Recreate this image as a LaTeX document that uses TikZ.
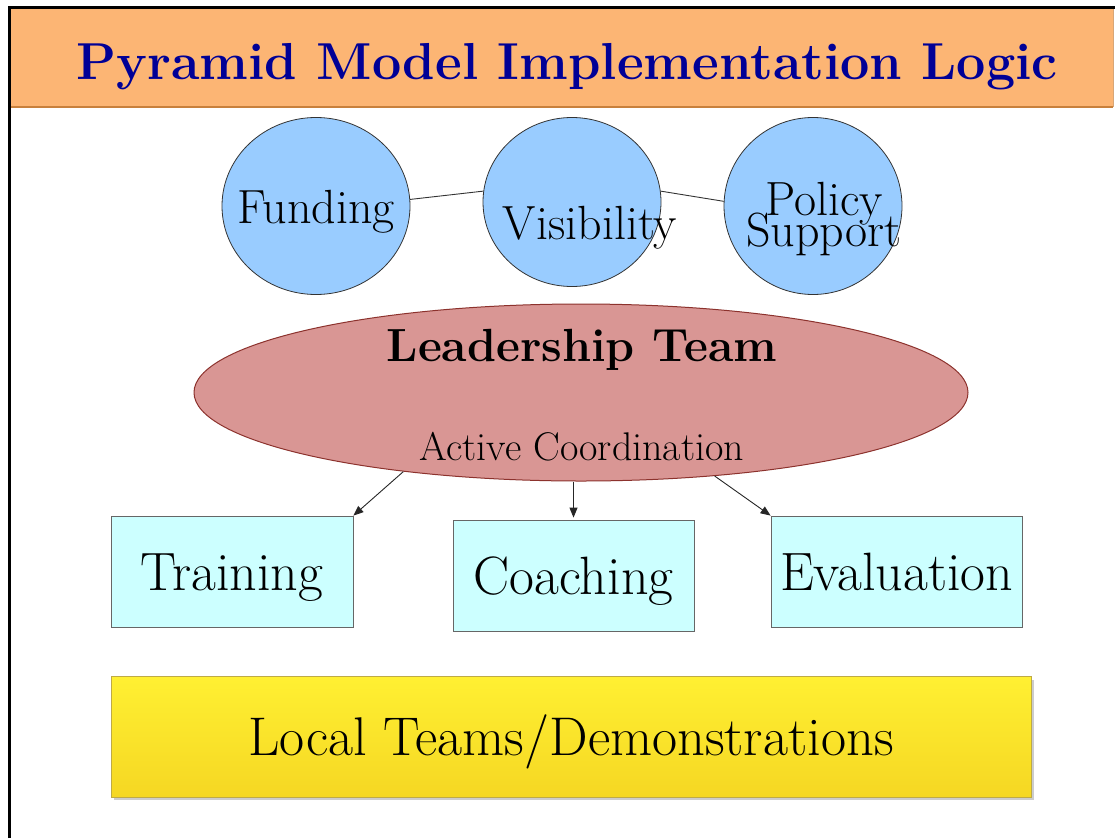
\documentclass[tikz,border=0pt]{standalone}
\usetikzlibrary{shapes.geometric,arrows.meta,backgrounds}
\definecolor{hdr}{RGB}{252,181,116}
\definecolor{hdrline}{RGB}{200,128,60}
\definecolor{ttl}{RGB}{0,0,150}
\definecolor{circ}{RGB}{153,204,255}
\definecolor{leadf}{RGB}{217,150,148}
\definecolor{leadd}{RGB}{140,50,45}
\definecolor{boxf}{RGB}{204,255,255}
\definecolor{yelT}{RGB}{255,240,50}
\definecolor{yelB}{RGB}{245,215,35}
\definecolor{yeld}{RGB}{190,170,70}
\newcommand{\mytightlines}{\fontsize{48}{31}\selectfont\lineskiplimit=-100pt\relax\lineskip=0pt\relax}
\begin{document}
\begin{tikzpicture}[x=1pt,y=-1pt,
  bubble/.style={ellipse, draw=black!80, fill=circ, line width=0.8pt, inner sep=0pt},
  ctext/.style={anchor=base, inner sep=0pt, font=\fontsize{48}{48}\selectfont},
  bluebox/.style={draw=black!60, fill=boxf, line width=0.8pt, inner sep=0pt,
     minimum height=111pt, text height=37pt, text depth=0pt, font=\fontsize{54}{54}\selectfont},
  arr/.style={-{Triangle[length=10pt,width=8pt]}, line width=0.9pt, black!85},
  link/.style={line width=0.9pt, black!80}]
\useasboundingbox (0,0) rectangle (1115,838);
% header
\fill[hdr] (11,9) rectangle (1113,107);
\draw[hdrline, line width=2.5pt] (11,107) -- (1113,107);
\draw[hdrline!70, line width=1pt] (1113,9) -- (1113,107);
\draw[black, line width=3pt] (9.5,838) -- (9.5,7.5) -- (1115,7.5);
\node[anchor=base, inner sep=0pt, text=ttl, font=\fontsize{52}{56}\selectfont\bfseries] (title) at (567,79) {Pyramid Model Implementation Logic};
% bubbles
\node[bubble, minimum width=188pt, minimum height=177pt] (fund) at (316,206) {};
\node[bubble, minimum width=178pt, minimum height=169pt] (vis) at (572,202) {};
\node[bubble, minimum width=178pt, minimum height=177pt] (pol) at (813,206) {};
\begin{pgfonlayer}{background}
\draw[link] (fund.4) -- (vis.173);
\draw[link] (vis.7) -- (pol.177);
\end{pgfonlayer}
\node[ctext] (fundt) at (316,223) {Funding};
\node[ctext] (vist) at (590,239) {Visibility};
\node[anchor=north, inner sep=0pt, align=center, font=\mytightlines] (polt) at (824,182) {Policy\\Support};
% leadership
\node[ellipse, draw=leadd, fill=leadf, line width=1pt, minimum width=774pt, minimum height=177pt, inner sep=0pt] (lead) at (581,392.5) {};
\node[anchor=base, inner sep=0pt, font=\fontsize{46.5}{46.5}\selectfont\bfseries] (leadt) at (582,361) {Leadership Team};
\node[anchor=base, inner sep=0pt, font=\fontsize{40}{40}\selectfont] (actt) at (582,460) {Active Coordination};
% boxes
\node[bluebox, minimum width=242pt] (train) at (232,571.5) {Training};
\node[bluebox, minimum width=241pt] (coach) at (573.5,575.5) {Coaching};
\node[bluebox, minimum width=251pt] (eval) at (896.5,571.5) {Evaluation};
\draw[arr] (lead.-156) -- (train.north east);
\draw[arr, shorten >=2pt] (lead.south -| coach.north) -- (coach.north);
\draw[arr] (lead.-32) -- (eval.north west);
% local teams
\fill[black!20] (114,680) rectangle (1034,800);
\node[draw=yeld, line width=0.8pt, top color=yelT, bottom color=yelB, minimum width=920pt, minimum height=121pt, inner sep=0pt, text height=37pt, text depth=0pt, font=\fontsize{54.5}{54.5}\selectfont] (local) at (571,736.5) {Local Teams/Demonstrations};
\end{tikzpicture}
\end{document}
